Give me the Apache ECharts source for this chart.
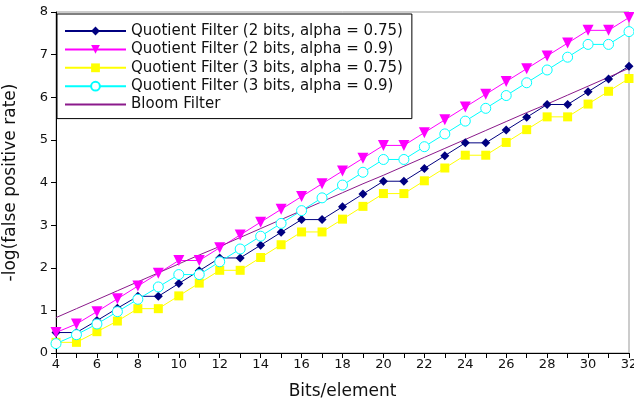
<!DOCTYPE html>
<html>
<head>
<meta charset="utf-8">
<script src="https://cdn.jsdelivr.net/npm/echarts@6/dist/echarts.min.js"></script>
<style>html,body{margin:0;padding:0;background:#fff;}#c{width:634px;height:401px;}</style>
</head>
<body>
<div id="c"></div>
<script>
const bits = [4,5,6,7,8,9,10,11,12,13,14,15,16,17,18,19,20,21,22,23,24,25,26,27,28,29,30,31,32];
const qf2_075 = [0.48,0.48,0.76,1.05,1.33,1.33,1.63,1.93,2.23,2.23,2.53,2.83,3.13,3.13,3.43,3.73,4.03,4.03,4.33,4.63,4.93,4.93,5.23,5.53,5.83,5.83,6.13,6.43,6.73];
const qf2_09 = [0.48,0.68,0.97,1.27,1.57,1.87,2.17,2.17,2.47,2.77,3.07,3.37,3.67,3.97,4.27,4.57,4.87,4.87,5.17,5.47,5.77,6.07,6.37,6.67,6.97,7.27,7.57,7.57,7.87];
const qf3_075 = [0.25,0.25,0.5,0.75,1.04,1.04,1.34,1.64,1.94,1.94,2.24,2.54,2.84,2.84,3.14,3.44,3.74,3.74,4.04,4.34,4.64,4.64,4.94,5.24,5.54,5.54,5.84,6.14,6.44];
const qf3_09 = [0.22,0.43,0.68,0.97,1.26,1.55,1.84,1.84,2.14,2.44,2.74,3.04,3.34,3.64,3.94,4.24,4.54,4.54,4.84,5.14,5.44,5.74,6.04,6.34,6.64,6.94,7.24,7.24,7.54];
const bloom = [0.83,1.04,1.25,1.46,1.67,1.88,2.09,2.30,2.50,2.71,2.92,3.13,3.34,3.55,3.76,3.97,4.17,4.38,4.59,4.80,5.01,5.22,5.43,5.64,5.84,6.05,6.26,6.47,6.68];
const names = ['Quotient Filter (2 bits, alpha = 0.75)','Quotient Filter (2 bits, alpha = 0.9)','Quotient Filter (3 bits, alpha = 0.75)','Quotient Filter (3 bits, alpha = 0.9)','Bloom Filter'];
const xTicks = [4,6,8,10,12,14,16,18,20,22,24,26,28,30,32];

const pairs = arr => bits.map((b,i)=>[b,arr[i]]);
const font = 'DejaVu Sans';
const chart = echarts.init(document.getElementById('c'), null, {renderer:'canvas'});
chart.setOption({
  animation:false,
  backgroundColor:'#fff',
  grid:{left:56,right:5,top:12,bottom:48,outerBoundsMode:'none',containLabel:false,show:true,borderColor:'#999',borderWidth:1,backgroundColor:'transparent'},
  legend:{
    show:true, orient:'vertical', left:57, top:14,
    padding:[9.5,9,6.5,7], itemGap:3.4, itemWidth:61, itemHeight:11,
    backgroundColor:'#fff', borderColor:'#000', borderWidth:1,
    textStyle:{fontFamily:font,fontSize:15,color:'#111',lineHeight:15},
    data:[names[0],names[1],names[2],names[3],{name:names[4],itemStyle:{opacity:0}}]
  },
  xAxis:{
    type:'value', min:xTicks[0], max:xTicks[xTicks.length-1], interval:2,
    name:'Bits/element', nameLocation:'middle', nameGap:30,
    nameTextStyle:{fontFamily:font,fontSize:17,color:'#111'},
    axisLine:{lineStyle:{color:'#000',width:1}},
    axisTick:{show:true,inside:false,length:5,lineStyle:{color:'#000'}},
    minorTick:{show:true,splitNumber:2,length:5,lineStyle:{color:'#000'}},
    axisLabel:{fontFamily:font,fontSize:13,color:'#111',margin:5},
    splitLine:{show:false}
  },
  yAxis:{
    type:'value', min:0, max:8, interval:1,
    name:'-log(false positive rate)', nameLocation:'middle', nameGap:37, nameRotate:90,
    nameTextStyle:{fontFamily:font,fontSize:17,color:'#111'},
    axisLine:{show:true,lineStyle:{color:'#000',width:1}},
    axisTick:{show:true,inside:false,length:5,lineStyle:{color:'#000'}},
    axisLabel:{fontFamily:font,fontSize:13,color:'#111',margin:8},
    splitLine:{show:false}
  },
  series:[
    {name:names[0],type:'line',data:pairs(qf2_075),symbol:'diamond',symbolSize:9,
     itemStyle:{color:'#000080'},lineStyle:{color:'#000080',width:1}},
    {name:names[1],type:'line',data:pairs(qf2_09),symbol:'triangle',symbolRotate:180,symbolSize:11,
     itemStyle:{color:'#ff00ff'},lineStyle:{color:'#ff00ff',width:1}},
    {name:names[2],type:'line',data:pairs(qf3_075),symbol:'rect',symbolSize:9,
     itemStyle:{color:'#ffff00'},lineStyle:{color:'#ffff00',width:1}},
    {name:names[3],type:'line',data:pairs(qf3_09),symbol:'circle',symbolSize:10,
     itemStyle:{color:'#ffffff',borderColor:'#00ffff',borderWidth:1},lineStyle:{color:'#00ffff',width:1}},
    {name:names[4],type:'line',data:pairs(bloom),symbol:'none',showSymbol:false,
     itemStyle:{color:'#8b1a8b'},lineStyle:{color:'#8b1a8b',width:1}}
  ]
});
</script>
</body>
</html>
